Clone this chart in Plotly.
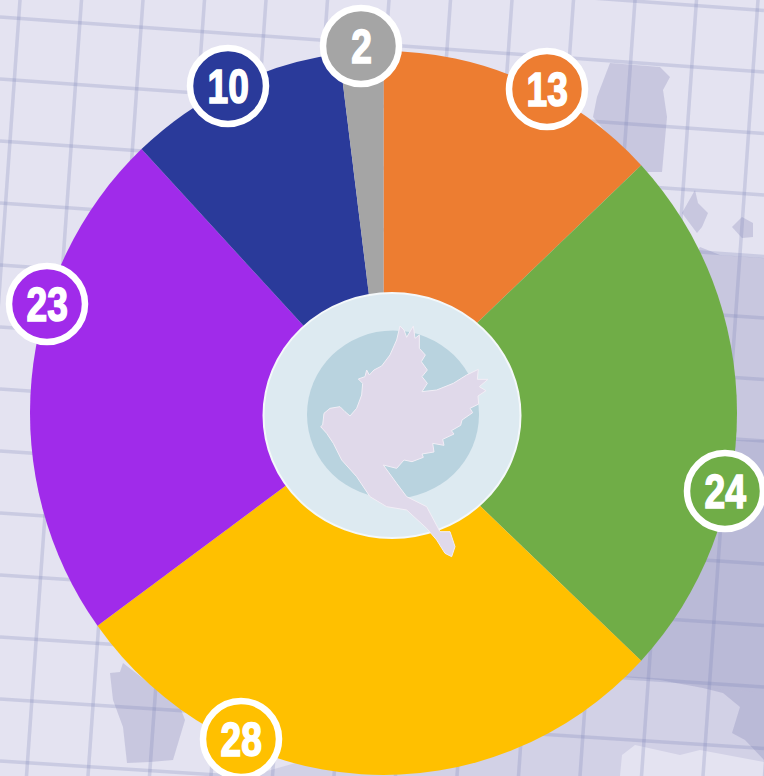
import plotly.graph_objects as go

W, H = 764, 776

# Data
categories = ["Orange", "Green", "Yellow", "Purple", "Navy", "Gray"]
values = [13, 24, 28, 23, 10, 2]
colors = ["#ED7D31", "#70AD47", "#FFC000", "#A02BEA", "#2A3A9A", "#A5A5A5"]

# Label badge centres (pixels in the page)
badge_x = [547, 725, 241, 47, 228, 361]
badge_y = [89, 491, 739, 304, 86, 46]
BADGE_R = 38

PIE_CX, PIE_CY, PIE_R = 383.5, 413, 357
PIE_SX, PIE_SY = 353.5 / 357, 362 / 357
BG = "#E4E3F1"


def px(x):
    return x / W


def py(y):
    return 1 - y / H


def poly(points, fill, line=None):
    d = "M " + " L ".join(f"{px(x):.5f},{py(y):.5f}" for x, y in points) + " Z"
    return dict(type="path", xref="paper", yref="paper", path=d, fillcolor=fill,
                line=dict(width=0 if line is None else 1, color=line or fill), layer="below")


def seg(x0, y0, x1, y1, color, width=3):
    return dict(type="line", xref="paper", yref="paper", x0=px(x0), y0=py(y0), x1=px(x1), y1=py(y1),
                line=dict(color=color, width=width), layer="below")


def ellipse(cx, cy, rx, ry, fill, line_color=None, line_width=0, layer="above"):
    return dict(type="circle", xref="paper", yref="paper",
                x0=px(cx - rx), x1=px(cx + rx), y0=py(cy + ry), y1=py(cy - ry),
                fillcolor=fill, line=dict(color=line_color or fill, width=line_width), layer=layer)


shade = "rgba(120,120,175,0.26)"
soft = "rgba(120,120,175,0.16)"

blotches = [
    poly([(250, 776), (600, 676), (623, 677), (660, 680), (703, 688), (764, 692), (764, 776)], soft),
    poly([(620, 776), (622, 755), (635, 745), (680, 755), (700, 750), (764, 762), (764, 776)], BG),
    poly([(610, 63), (660, 67), (670, 77), (663, 90), (667, 117), (662, 172), (640, 172), (593, 117), (597, 97)], shade),
    poly([(695, 190), (698, 203), (708, 213), (702, 227), (697, 233), (682, 213)], shade),
    poly([(732, 227), (742, 217), (753, 223), (753, 237), (742, 238)], shade),
    poly([(700, 247), (720, 255), (764, 258), (764, 760), (745, 740), (732, 733), (740, 707), (723, 693),
          (703, 688), (660, 680), (623, 677), (560, 640), (600, 400)], shade),
    poly([(690, 440), (764, 440), (764, 692), (703, 688), (660, 680), (623, 677), (600, 640)], soft),
    poly([(110, 673), (120, 672), (123, 663), (180, 707), (185, 720), (173, 760), (150, 762),
          (127, 763), (123, 727), (113, 700)], shade),
]

grid_color = "rgba(125,130,185,0.25)"
grid = []
for k in range(-1, 14):
    grid.append(seg(0, 17 + 62 * k, W, 72 + 61.5 * k, grid_color, 3.5))
for k in range(0, 15):
    top = 20 + 61.5 * k
    grid.append(seg(top, 0, top - 55, H, grid_color, 3.5))

# Dove silhouette, traced in the 3x crop coordinates of the centre region
dove_trace = [
    (218, 435), (222, 400), (240, 385), (270, 380), (285, 395), (300, 408), (320, 385), (335, 345), (338, 310),
    (325, 297), (345, 290), (350, 270), (358, 285), (372, 270), (395, 258), (420, 225), (440, 180), (450, 138),
    (462, 150), (470, 172), (490, 138), (495, 175), (508, 165), (508, 205), (526, 225), (514, 245), (532, 270),
    (516, 290), (532, 310), (516, 335), (560, 330), (610, 310), (650, 285), (685, 268), (682, 298), (714, 298),
    (688, 320), (708, 332), (684, 348), (686, 372), (660, 385), (668, 398), (636, 420), (632, 436), (604, 452),
    (612, 462), (578, 478), (582, 496), (548, 490), (552, 516), (516, 522), (520, 532), (486, 545), (462, 540),
    (440, 565), (400, 555),
    (440, 610), (470, 650), (530, 680), (570, 755), (600, 755), (615, 800), (605, 830), (585, 820), (560, 780),
    (530, 745), (470, 690), (410, 680), (360, 650), (320, 590), (275, 540), (250, 490), (230, 460), (212, 440),
]
dove = poly([(250 + x / 3, 280 + y / 3) for x, y in dove_trace], "#E0D9EA", "#F2EEF6")
dove["layer"] = "above"

centre = [
    ellipse(392, 415.5, 128.5, 122.5, "#DDEAF1", "#F4F8FA", 2),
    ellipse(393, 414.5, 86, 84, "#B9D3DF"),
    dove,
]

badges = [ellipse(x, y, BADGE_R, BADGE_R, c, "#FFFFFF", 6.5) for x, y, c in zip(badge_x, badge_y, colors)]

annotations = [
    dict(xref="paper", yref="paper", x=px(x), y=py(y), text=str(v), showarrow=False,
         xanchor="center", yanchor="middle",
         font=dict(family="Liberation Sans", size=49, color="#FFFFFF", weight="bold"))
    for x, y, v in zip(badge_x, badge_y, values)
]

fig = go.Figure(go.Pie(
    labels=categories,
    values=values,
    sort=False,
    direction="clockwise",
    rotation=0,
    hole=0,
    textinfo="none",
    showlegend=False,
    marker=dict(colors=colors, line=dict(width=0)),
    domain=dict(x=[px(PIE_CX - PIE_R), px(PIE_CX + PIE_R)],
                y=[max(py(PIE_CY + PIE_R), 0), py(PIE_CY - PIE_R)]),
))

fig.update_layout(
    width=W,
    height=H,
    margin=dict(l=0, r=0, t=0, b=0),
    paper_bgcolor=BG,
    plot_bgcolor=BG,
    shapes=blotches + grid + centre + badges,
    annotations=annotations,
)

css = (
    "html,body{margin:0;padding:0;overflow:hidden;background:%s}"
    ".pielayer{transform-origin:%spx %spx;transform:scale(%.4f,%.4f)}"
    ".annotation-text{transform-box:fill-box;transform-origin:center;transform:scaleX(0.76);"
    "stroke:#FFFFFF;stroke-width:1.6px}"
) % (BG, PIE_CX, PIE_CY, PIE_SX, PIE_SY)
post = "var s=document.createElement('style');s.textContent=%r;document.head.appendChild(s);" % css

fig.write_html("out.html", post_script=post, config={"displayModeBar": False})
